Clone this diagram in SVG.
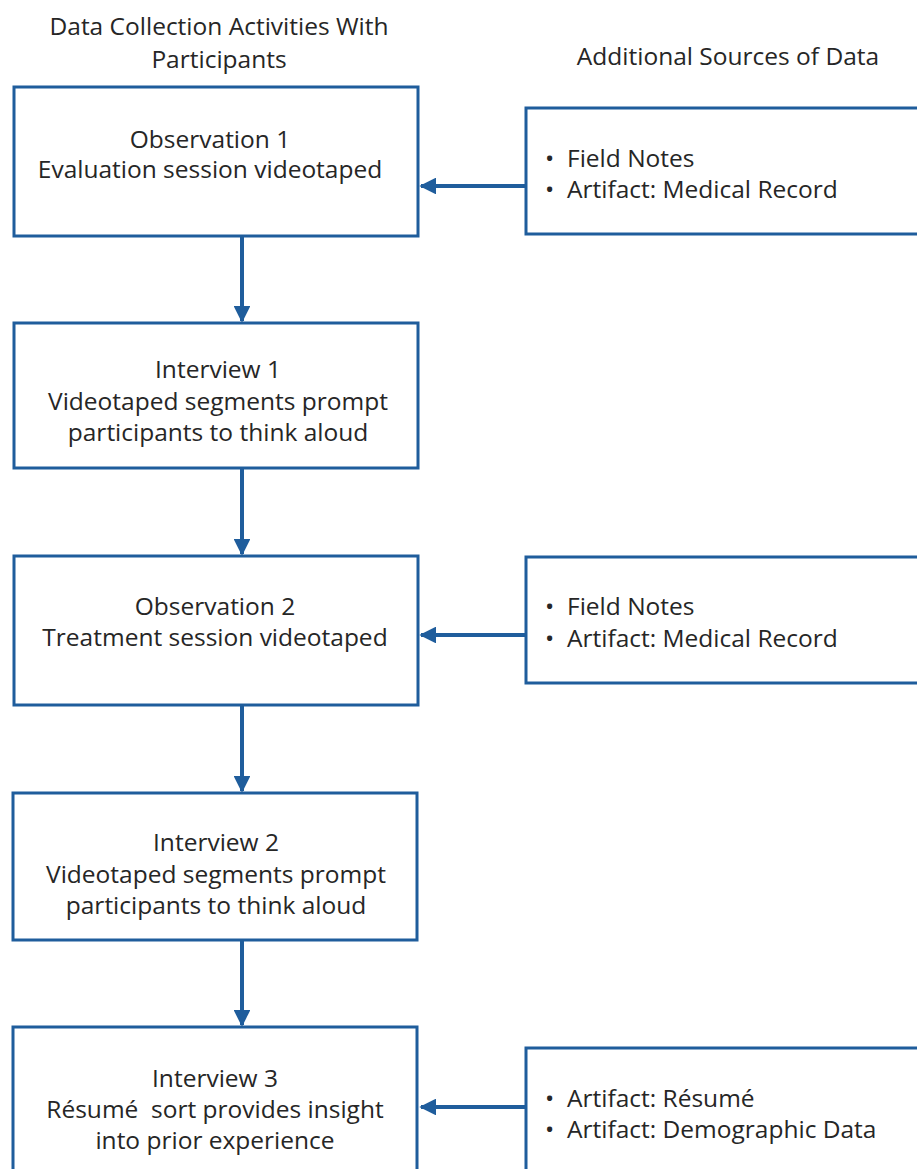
<svg xmlns="http://www.w3.org/2000/svg" width="917" height="1169" viewBox="0 0 917 1169">
<defs>
<style>
.t{font-family:"Open Sans","Noto Sans","DejaVu Sans",sans-serif;font-size:24.5px;fill:#262626;white-space:pre}
.c{text-anchor:middle}
.box{fill:#ffffff;stroke:#1f5d9c;stroke-width:3}
.ln{stroke:#1f5d9c;stroke-width:4;fill:none}
</style>
<marker id="ah" viewBox="0 0 10 10" refX="9" refY="5" markerWidth="4.2" markerHeight="4.2" orient="auto" markerUnits="strokeWidth">
<path d="M0,0 L10,5 L0,10 z" fill="#1f5d9c"/>
</marker>
</defs>
<rect width="917" height="1169" fill="#ffffff"/>
<g id="headers">
<text class="t c" x="219" y="35">Data Collection Activities With</text>
<text class="t c" x="219" y="68">Participants</text>
<text class="t c" x="728" y="65">Additional Sources of Data</text>
</g>
<g id="obs1">
<rect class="box" x="14" y="87" width="404" height="149"/>
<text class="t c" x="210" y="148">Observation 1</text>
<text class="t c" x="210" y="178">Evaluation session videotaped</text>
</g>
<g id="int1">
<rect class="box" x="14" y="323" width="404" height="145"/>
<text class="t c" x="218" y="378">Interview 1</text>
<text class="t c" x="218" y="410">Videotaped segments prompt</text>
<text class="t c" x="218" y="441">participants to think aloud</text>
</g>
<g id="obs2">
<rect class="box" x="14" y="556" width="404" height="149"/>
<text class="t c" x="215" y="615">Observation 2</text>
<text class="t c" x="215" y="646">Treatment session videotaped</text>
</g>
<g id="int2">
<rect class="box" x="13" y="793" width="404" height="147"/>
<text class="t c" x="216" y="851">Interview 2</text>
<text class="t c" x="216" y="883">Videotaped segments prompt</text>
<text class="t c" x="216" y="914">participants to think aloud</text>
</g>
<g id="int3">
<rect class="box" x="13" y="1027" width="404" height="160"/>
<text class="t c" x="215" y="1087">Interview 3</text>
<text class="t c" x="215" y="1118">Résumé  sort provides insight</text>
<text class="t c" x="215" y="1149">into prior experience</text>
</g>
<g id="src1">
<rect class="box" x="526" y="108" width="410" height="126"/>
<text class="t" x="545" y="167">•</text>
<text class="t" x="567" y="167">Field Notes</text>
<text class="t" x="545" y="198">•</text>
<text class="t" x="567" y="198">Artifact: Medical Record</text>
</g>
<g id="src2">
<rect class="box" x="526" y="557" width="410" height="126"/>
<text class="t" x="545" y="615">•</text>
<text class="t" x="567" y="615">Field Notes</text>
<text class="t" x="545" y="647">•</text>
<text class="t" x="567" y="647">Artifact: Medical Record</text>
</g>
<g id="src3">
<rect class="box" x="526" y="1048" width="410" height="140"/>
<text class="t" x="545" y="1107">•</text>
<text class="t" x="567" y="1107">Artifact: Résumé</text>
<text class="t" x="545" y="1138">•</text>
<text class="t" x="567" y="1138">Artifact: Demographic Data</text>
</g>
<g id="connectors">
<line class="ln" x1="242" y1="237" x2="242" y2="321" marker-end="url(#ah)"/>
<line class="ln" x1="242" y1="469" x2="242" y2="554" marker-end="url(#ah)"/>
<line class="ln" x1="242" y1="706" x2="242" y2="791" marker-end="url(#ah)"/>
<line class="ln" x1="242" y1="941" x2="242" y2="1025" marker-end="url(#ah)"/>
<line class="ln" x1="525" y1="186" x2="421" y2="186" marker-end="url(#ah)"/>
<line class="ln" x1="525" y1="635" x2="421" y2="635" marker-end="url(#ah)"/>
<line class="ln" x1="525" y1="1107" x2="421" y2="1107" marker-end="url(#ah)"/>
</g>
</svg>
